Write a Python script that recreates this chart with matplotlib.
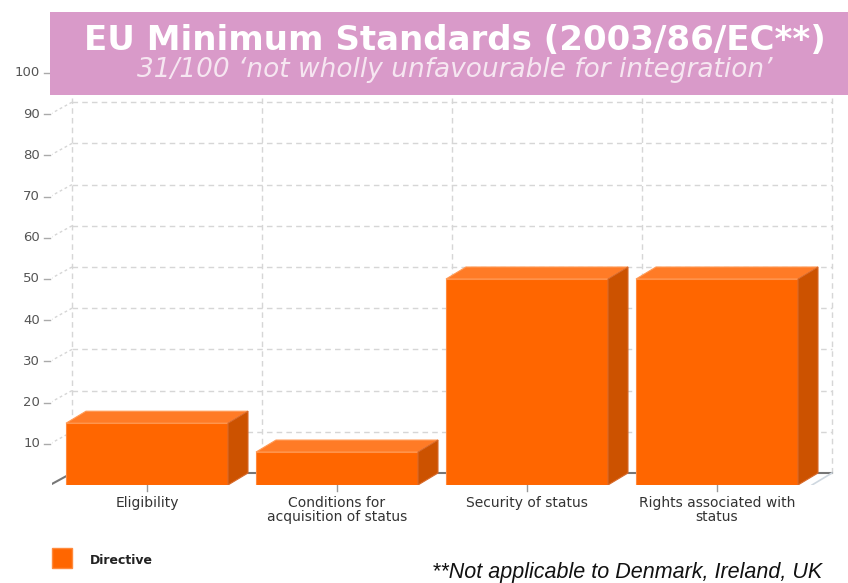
import matplotlib.pyplot as plt
from matplotlib.patches import Polygon, Rectangle

categories = ["Eligibility", "Conditions for\nacquisition of status",
              "Security of status", "Rights associated with\nstatus"]
values = [15, 8, 50, 50]
yticks = [10, 20, 30, 40, 50, 60, 70, 80, 90, 100]
series_name = "Directive"

W, H = 848, 583
fig = plt.figure(figsize=(W / 100, H / 100), dpi=100)
fig.patch.set_facecolor("white")

# axes placed in pixel terms: x from 52 px to right edge, y=0 at 485 px, top at 12 px
px_per_cat = 190.0
px_per_unit = 4.12
ax_left, ax_bottom, ax_top = 52, 485, 12
ax = fig.add_axes([ax_left / W, (H - ax_bottom) / H, (W - ax_left) / W, (ax_bottom - ax_top) / H])
ax.set_xlim(-0.5, -0.5 + (W - ax_left) / px_per_cat)
ax.set_ylim(0, (ax_bottom - ax_top) / px_per_unit)
ax.axis("off")

dx = 20 / px_per_cat   # depth offset
dy = 12 / px_per_unit
n = len(categories)
x0 = -0.5
axis_x = x0 - 2 / px_per_cat
grid_c = "#d6d6d6"

# back wall grid
for v in yticks:
    ax.plot([x0 + dx, n - 0.5 + dx], [v + dy, v + dy], ls=(0, (4, 3)), color=grid_c, lw=1, zorder=1)
    ax.plot([axis_x, x0 + dx], [v, v + dy], ls=(0, (2, 2)), color=grid_c, lw=1, zorder=1)
    ax.plot([axis_x - 6 / px_per_cat, axis_x], [v, v], color="#aaaaaa", lw=1, clip_on=False)
    ax.text(axis_x - 10 / px_per_cat, v, str(v), ha="right", va="center", fontsize=9.5,
            color="#555555", clip_on=False)
for k in range(n + 1):
    ax.plot([x0 + dx + k, x0 + dx + k], [dy, 100 + dy], ls=(0, (4, 3)), color=grid_c, lw=1, zorder=1)

# floor
ax.plot([x0 + dx, n - 0.5 + dx], [dy, dy], color="#777777", lw=1.5, zorder=1)
ax.plot([axis_x, x0 + dx], [0, dy], color="#777777", lw=1.5, zorder=1)
ax.plot([n - 0.5 + dx, n - 0.5], [dy, 0], color="#cfd8e0", lw=1.2, zorder=1)
ax.plot([axis_x, axis_x], [0, 100], color="#b0b0b0", lw=1, zorder=1)

# bars
bw = 162 / px_per_cat
for i, v in enumerate(values):
    l, r = i - bw / 2, i + bw / 2
    ax.bar(i, v, width=bw, color="#ff6600", edgecolor="#ff8a3d", linewidth=0.8, zorder=3)
    ax.add_patch(Polygon([(l, v), (r, v), (r + dx, v + dy), (l + dx, v + dy)],
                         closed=True, facecolor="#ff7b26", edgecolor="#ff9a55", lw=0.8, zorder=3))
    ax.add_patch(Polygon([(r, 0), (r + dx, dy), (r + dx, v + dy), (r, v)],
                         closed=True, facecolor="#cc5200", edgecolor="#d8692a", lw=0.8, zorder=3))
    ax.plot([i, i], [-1.5, 0], color="#999999", lw=1, clip_on=False)
    ax.text(i, -2.6, categories[i], ha="center", va="top", fontsize=10, color="#333333",
            linespacing=1.05, clip_on=False)

# title box
fig.add_artist(Rectangle((50 / W, 1 - 95 / H), (W - 50) / W, 83 / H, transform=fig.transFigure,
                         facecolor="#d99ac9", edgecolor="none", zorder=2))
fig.text(455 / W, 1 - 40 / H, "EU Minimum Standards (2003/86/EC**)", ha="center", va="center",
         fontsize=24.5, fontweight="bold", color="white", zorder=3)
fig.text(455 / W, 1 - 70 / H, "31/100 \u2018not wholly unfavourable for integration\u2019",
         ha="center", va="center", fontsize=19, style="italic", color="#f6e6f1", zorder=3)

# legend
fig.add_artist(Rectangle((52 / W, 1 - 568 / H), 20 / W, 20 / H, transform=fig.transFigure,
                         facecolor="#ff6600", edgecolor="#ff8a3d", zorder=2))
fig.text(90 / W, 1 - 560 / H, series_name, ha="left", va="center", fontsize=9,
         fontweight="bold", color="#222222")

fig.text(432 / W, 1 - 562 / H, "**Not applicable to Denmark, Ireland, UK", ha="left", va="top",
         fontsize=15.5, style="italic", family="Liberation Sans", color="#111111")

fig.savefig("out.png", dpi=100)
